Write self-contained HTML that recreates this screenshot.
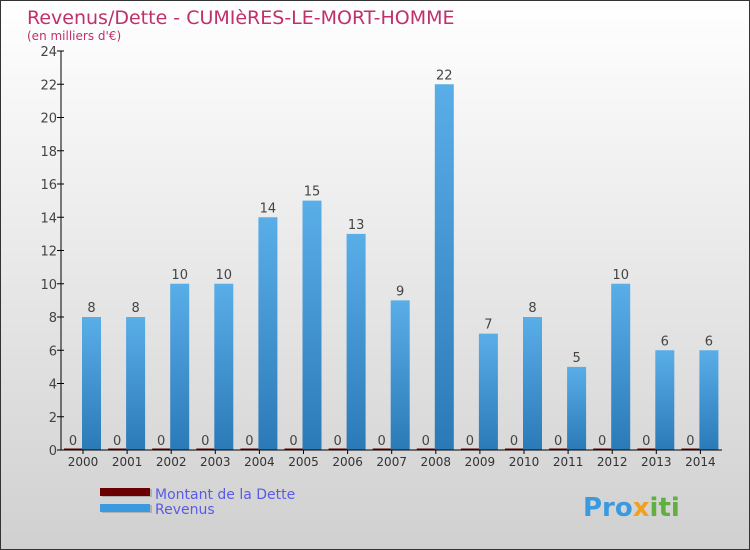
<!DOCTYPE html>
<html><head><meta charset="utf-8"><style>
body{margin:0}
svg{display:block;font-family:"DejaVu Sans","Liberation Sans",sans-serif}
</style></head><body>
<svg width="750" height="550" viewBox="0 0 750 550">
<defs>
<linearGradient id="bg" x1="0" y1="0" x2="0" y2="1"><stop offset="0" stop-color="#ffffff"/><stop offset="1" stop-color="#d0d0d0"/></linearGradient>
<linearGradient id="bar" x1="0" y1="0" x2="0" y2="1"><stop offset="0" stop-color="#5aaee8"/><stop offset="1" stop-color="#2a7ab8"/></linearGradient>
</defs>
<rect x="0.5" y="0.5" width="749" height="549" fill="url(#bg)" stroke="#333"/>
<text x="27" y="24" font-size="19" fill="#c0306a">Revenus/Dette - CUMIèRES-LE-MORT-HOMME</text>
<text x="27" y="40" font-size="12" fill="#c0306a">(en milliers d'€)</text>
<g id="plot"></g>
<g>
<rect x="102" y="489" width="50" height="8" fill="#999" opacity="0.6"/>
<rect x="100" y="488" width="50" height="8" fill="#6a0000"/>
<text x="155" y="499" font-size="14" fill="#5a5ae8">Montant de la Dette</text>
<rect x="102" y="505" width="50" height="8" fill="#999" opacity="0.6"/>
<rect x="100" y="504" width="50" height="8" fill="#3a9ae0"/>
<text x="155" y="514" font-size="14" fill="#5a5ae8">Revenus</text>
</g>
<text x="583" y="516" font-size="26" font-weight="bold" fill="#3a9ae0">Pro<tspan fill="#f0a020">x</tspan><tspan fill="#60b040">iti</tspan></text>
</svg>
<script>
const categories=["2000","2001","2002","2003","2004","2005","2006","2007","2008","2009","2010","2011","2012","2013","2014"];
const revenus=[8,8,10,10,14,15,13,9,22,7,8,5,10,6,6];
const dette=[0,0,0,0,0,0,0,0,0,0,0,0,0,0,0];
const yTicks=[0,2,4,6,8,10,12,14,16,18,20,22,24];
const NS="http://www.w3.org/2000/svg";
const g=document.getElementById('plot');
const x0=61,y0=450,yTop=51,x1=722,yMax=24;
const step=44.1, first=83;
const y=v=>y0-(v/yMax)*(y0-yTop);
const cx=i=>first+i*step;
function mk(t,a,txt){const e=document.createElementNS(NS,t);for(const k in a)e.setAttribute(k,a[k]);if(txt!==undefined)e.textContent=txt;g.appendChild(e);return e;}
yTicks.forEach(t=>{
 const l=mk('line',{x1:x0-4,x2:x0+3,y1:y(t),y2:y(t),stroke:'#000'});
 
 const tx=mk('text',{x:x0-4,y:y(t)+5,'font-size':13,fill:'#444','text-anchor':'end'},t);
 
});
categories.forEach((c,i)=>{
 const r=revenus[i],d=dette[i];
 const b=mk('rect',{x:cx(i)-1,y:y(r),width:19,height:y0-y(r),fill:'url(#bar)'});
 
 const db=mk('rect',{x:cx(i)-19,y:y(d)-1.5,width:18,height:y0-y(d)+1.5,fill:'#6a0000'});
 
 const rl=mk('text',{x:cx(i)+8.5,y:y(r)-5,'font-size':13,fill:'#444','text-anchor':'middle'},r);
 
 const dl=mk('text',{x:cx(i)-10,y:y(d)-5,'font-size':13,fill:'#444','text-anchor':'middle'},d);
 
 const tk=mk('line',{x1:cx(i),x2:cx(i),y1:y0,y2:y0+4,stroke:'#000'});
 
 const xl=mk('text',{x:cx(i),y:y0+16,'font-size':12,fill:'#333','text-anchor':'middle'},c);
 
});
const ya=mk('line',{x1:x0,x2:x0,y1:yTop,y2:y0,stroke:'#000'});

const xa=mk('line',{x1:x0,x2:x1,y1:y0,y2:y0,stroke:'#000'});

</script>
</body></html>
